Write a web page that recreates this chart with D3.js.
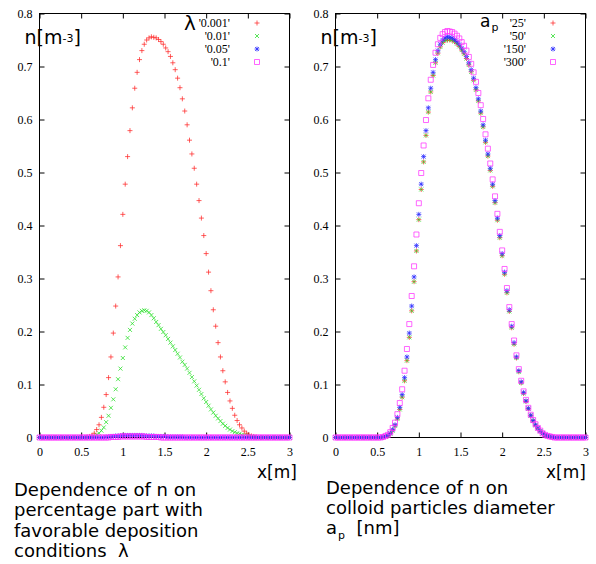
<!DOCTYPE html>
<html>
<head>
<meta charset="utf-8">
<script src="https://cdn.jsdelivr.net/npm/d3@7"></script>
<style>
	body { margin: 0; background: #fff; }
	svg { display: block; }
</style>
</head>
<body>
<script>
{ // start block scope

	// x grid shared by every series (0..3 m, 106 samples)
	const xGrid = d3.range(106).map((i) => (i * 3) / 105);

	const xTicks = [0, 0.5, 1, 1.5, 2, 2.5, 3];
	const yTicks = [0, 0.1, 0.2, 0.3, 0.4, 0.5, 0.6, 0.7, 0.8];

	// left panel : lambda
	const lambdaLabels = ["'0.001'", "'0.01'", "'0.05'", "'0.1'"];
	const lam0001 = [
		0, 0, 0, 0, 0, 0, 0, 0, 0, 0,
		0, 0, 0, 0, 0, 0, 0, 0, 0, 0,
		0.001, 0.002, 0.004, 0.008, 0.015, 0.024, 0.038, 0.057, 0.081, 0.113,
		0.152, 0.197, 0.248, 0.303, 0.362, 0.421, 0.478, 0.530, 0.579, 0.622,
		0.659, 0.689, 0.713, 0.730, 0.742, 0.750, 0.754, 0.756, 0.755, 0.754,
		0.751, 0.747, 0.742, 0.735, 0.728, 0.719, 0.707, 0.694, 0.678, 0.660,
		0.639, 0.616, 0.590, 0.561, 0.535, 0.508, 0.478, 0.447, 0.414, 0.381,
		0.347, 0.312, 0.277, 0.241, 0.210, 0.179, 0.152, 0.126, 0.105, 0.085,
		0.069, 0.055, 0.042, 0.032, 0.024, 0.018, 0.012, 0.008, 0.005, 0.003,
		0.002, 0.001, 0, 0, 0, 0, 0, 0, 0, 0,
		0, 0, 0, 0, 0, 0
	];
	const lam001 = [
		0, 0, 0, 0, 0, 0, 0, 0, 0, 0,
		0, 0, 0, 0, 0, 0, 0, 0, 0, 0,
		0, 0, 0, 0.002, 0.005, 0.008, 0.013, 0.019, 0.029, 0.041,
		0.056, 0.072, 0.091, 0.110, 0.130, 0.150, 0.170, 0.188, 0.203, 0.215,
		0.224, 0.231, 0.236, 0.239, 0.240, 0.239, 0.236, 0.231, 0.225, 0.218,
		0.212, 0.205, 0.199, 0.193, 0.186, 0.179, 0.172, 0.165, 0.158, 0.151,
		0.143, 0.137, 0.130, 0.122, 0.114, 0.106, 0.098, 0.090, 0.082, 0.074,
		0.067, 0.060, 0.053, 0.047, 0.041, 0.036, 0.031, 0.026, 0.022, 0.018,
		0.015, 0.012, 0.010, 0.008, 0.007, 0.005, 0.004, 0.003, 0.002, 0.002,
		0.001, 0, 0, 0, 0, 0, 0, 0, 0, 0,
		0, 0, 0, 0, 0, 0
	];
	const lam005 = [
		0, 0, 0, 0, 0, 0, 0, 0, 0, 0,
		0, 0, 0, 0, 0, 0, 0, 0, 0, 0,
		0, 0, 0, 0, 0, 0, 0, 0, 0.001, 0.001,
		0.002, 0.002, 0.003, 0.003, 0.003, 0.004, 0.004, 0.004, 0.004, 0.004,
		0.004, 0.004, 0.004, 0.004, 0.003, 0.003, 0.003, 0.003, 0.003, 0.002,
		0.002, 0.002, 0.002, 0.002, 0.001, 0.001, 0.001, 0.001, 0.001, 0.001,
		0.001, 0, 0, 0, 0, 0, 0, 0, 0, 0,
		0, 0, 0, 0, 0, 0, 0, 0, 0, 0,
		0, 0, 0, 0, 0, 0, 0, 0, 0, 0,
		0, 0, 0, 0, 0, 0, 0, 0, 0, 0,
		0, 0, 0, 0, 0, 0
	];
	const lam01 = [
		0, 0, 0, 0, 0, 0, 0, 0, 0, 0,
		0, 0, 0, 0, 0, 0, 0, 0, 0, 0,
		0, 0, 0, 0, 0, 0, 0, 0, 0, 0,
		0.001, 0.001, 0.001, 0.001, 0.002, 0.002, 0.002, 0.002, 0.002, 0.002,
		0.002, 0.002, 0.002, 0.002, 0.002, 0.001, 0.001, 0.001, 0.001, 0.001,
		0.001, 0, 0, 0, 0, 0, 0, 0, 0, 0,
		0, 0, 0, 0, 0, 0, 0, 0, 0, 0,
		0, 0, 0, 0, 0, 0, 0, 0, 0, 0,
		0, 0, 0, 0, 0, 0, 0, 0, 0, 0,
		0, 0, 0, 0, 0, 0, 0, 0, 0, 0,
		0, 0, 0, 0, 0, 0
	];

	// right panel : particle diameter a_p
	const apLabels = ["'25'", "'50'", "'150'", "'300'"];
	const ap25 = [
		0, 0, 0, 0, 0, 0, 0, 0, 0, 0,
		0, 0, 0, 0, 0, 0, 0, 0, 0, 0,
		0.001, 0.002, 0.003, 0.007, 0.013, 0.022, 0.035, 0.053, 0.076, 0.107,
		0.145, 0.189, 0.239, 0.294, 0.352, 0.411, 0.468, 0.520, 0.570, 0.614,
		0.652, 0.683, 0.707, 0.725, 0.737, 0.745, 0.749, 0.750, 0.750, 0.749,
		0.747, 0.743, 0.738, 0.731, 0.724, 0.715, 0.703, 0.690, 0.674, 0.656,
		0.635, 0.612, 0.586, 0.557, 0.531, 0.504, 0.474, 0.443, 0.410, 0.377,
		0.343, 0.308, 0.273, 0.238, 0.207, 0.176, 0.150, 0.124, 0.103, 0.083,
		0.068, 0.054, 0.041, 0.031, 0.023, 0.017, 0.012, 0.008, 0.005, 0.003,
		0.002, 0.001, 0, 0, 0, 0, 0, 0, 0, 0,
		0, 0, 0, 0, 0, 0
	];
	const ap50 = [
		0, 0, 0, 0, 0, 0, 0, 0, 0, 0,
		0, 0, 0, 0, 0, 0, 0, 0, 0, 0,
		0.001, 0.002, 0.003, 0.007, 0.013, 0.022, 0.035, 0.053, 0.076, 0.107,
		0.145, 0.189, 0.239, 0.294, 0.352, 0.411, 0.468, 0.520, 0.570, 0.614,
		0.652, 0.683, 0.707, 0.725, 0.737, 0.745, 0.749, 0.751, 0.751, 0.750,
		0.747, 0.743, 0.738, 0.731, 0.724, 0.715, 0.703, 0.690, 0.674, 0.656,
		0.635, 0.612, 0.586, 0.557, 0.531, 0.504, 0.474, 0.443, 0.410, 0.377,
		0.343, 0.308, 0.273, 0.238, 0.207, 0.176, 0.150, 0.124, 0.103, 0.083,
		0.068, 0.054, 0.041, 0.031, 0.023, 0.017, 0.012, 0.008, 0.005, 0.003,
		0.002, 0.001, 0, 0, 0, 0, 0, 0, 0, 0,
		0, 0, 0, 0, 0, 0
	];
	const ap150 = [
		0, 0, 0, 0, 0, 0, 0, 0, 0, 0,
		0, 0, 0, 0, 0, 0, 0, 0, 0, 0,
		0.001, 0.002, 0.004, 0.008, 0.015, 0.024, 0.038, 0.057, 0.081, 0.113,
		0.152, 0.197, 0.248, 0.303, 0.362, 0.421, 0.478, 0.530, 0.579, 0.622,
		0.659, 0.689, 0.713, 0.730, 0.742, 0.750, 0.754, 0.756, 0.755, 0.754,
		0.751, 0.747, 0.742, 0.735, 0.728, 0.719, 0.707, 0.694, 0.678, 0.660,
		0.639, 0.616, 0.590, 0.561, 0.535, 0.508, 0.478, 0.447, 0.414, 0.381,
		0.347, 0.312, 0.277, 0.241, 0.210, 0.179, 0.152, 0.126, 0.105, 0.085,
		0.069, 0.055, 0.042, 0.032, 0.024, 0.018, 0.012, 0.008, 0.005, 0.003,
		0.002, 0.001, 0, 0, 0, 0, 0, 0, 0, 0,
		0, 0, 0, 0, 0, 0
	];
	const ap300 = [
		0, 0, 0, 0, 0, 0, 0, 0, 0, 0,
		0, 0, 0, 0, 0, 0, 0, 0, 0, 0,
		0.001, 0.003, 0.005, 0.010, 0.018, 0.028, 0.044, 0.065, 0.091, 0.126,
		0.167, 0.214, 0.267, 0.323, 0.383, 0.442, 0.499, 0.551, 0.599, 0.640,
		0.675, 0.703, 0.726, 0.742, 0.754, 0.761, 0.765, 0.767, 0.766, 0.765,
		0.762, 0.758, 0.753, 0.746, 0.739, 0.730, 0.718, 0.705, 0.689, 0.671,
		0.650, 0.627, 0.601, 0.572, 0.545, 0.517, 0.487, 0.455, 0.422, 0.388,
		0.353, 0.318, 0.282, 0.246, 0.214, 0.183, 0.155, 0.129, 0.107, 0.087,
		0.071, 0.056, 0.043, 0.033, 0.025, 0.018, 0.013, 0.008, 0.005, 0.003,
		0.002, 0.001, 0, 0, 0, 0, 0, 0, 0, 0,
		0, 0, 0, 0, 0, 0
	];

	var width = 596,
		height = 564;

	// gnuplot-like point types
	const symbols = {
		plus: "M-2.5,0H2.5M0,-2.5V2.5",
		cross: "M-2,-2L2,2M-2,2L2,-2",
		star: "M-2.5,0H2.5M0,-2.5V2.5M-2,-2L2,2M-2,2L2,-2",
		square: "M-2.5,-2.5h5v5h-5z"
	};
	const styles = [
		{ sym: "plus", color: "#ff2a2a" },
		{ sym: "cross", color: "#22dd22" },
		{ sym: "star", color: "#2a2aff" },
		{ sym: "square", color: "#ff33ff" }
	];

	var svg = d3
		.select("body")
		.append("svg")
		.attr("width", width)
		.attr("height", height)
		.style("background", "#fff");

	drawPanel({
		left: 39.5,
		series: [lam0001, lam001, lam005, lam01],
		labels: lambdaLabels,
		legendX: 230,
		markX: 257,
		xLabelX: 257
	});
	drawPanel({
		left: 335.5,
		series: [ap25, ap50, ap150, ap300],
		labels: apLabels,
		legendX: 526,
		markX: 553,
		xLabelX: 546
	});

	function drawPanel(p) {
		const x = d3.scaleLinear().domain([0, 3]).range([p.left, p.left + 250]);
		const y = d3.scaleLinear().domain([0, 0.8]).range([437.5, 13.5]);
		const fmt = (d) => String(d);

		const g = svg.append("g");

		// axes with inward ticks on all four sides
		const axes = [
			{ ax: d3.axisBottom(x).tickValues(xTicks).tickFormat(fmt).tickPadding(10), t: "translate(0,437.5)" },
			{ ax: d3.axisTop(x).tickValues(xTicks).tickFormat(""), t: "translate(0,13.5)" },
			{ ax: d3.axisLeft(y).tickValues(yTicks).tickFormat(fmt).tickPadding(7), t: `translate(${p.left},0)` },
			{ ax: d3.axisRight(y).tickValues(yTicks).tickFormat(""), t: `translate(${p.left + 250},0)` }
		];
		axes.forEach((a) => {
			const ag = g
				.append("g")
				.attr("transform", a.t)
				.call(a.ax.tickSizeInner(-5).tickSizeOuter(0));
			ag.select(".domain").remove();
			ag.attr("font-family", "'Liberation Serif', serif").attr("font-size", 12);
			ag.selectAll("line").attr("stroke", "#000");
			ag.selectAll("text").attr("fill", "#000");
		});

		g.append("rect")
			.attr("x", p.left)
			.attr("y", 13.5)
			.attr("width", 250)
			.attr("height", 424)
			.attr("fill", "none")
			.attr("stroke", "#000");

		// points
		p.series.forEach((vals, k) => {
			const st = styles[k];
			g.append("g")
				.attr("fill", "none")
				.attr("stroke", st.color)
				.attr("stroke-width", 1)
				.attr("stroke-opacity", 0.75)
				.selectAll("path")
				.data(xGrid.map((xv, i) => [xv, vals[i]]))
				.join("path")
				.attr("transform", (d) => `translate(${x(d[0])},${y(d[1])})`)
				.attr("d", symbols[st.sym]);
		});

		// legend
		const lg = g.append("g");
		p.labels.forEach((lab, k) => {
			const ly = 23 + k * 13;
			lg.append("text")
				.attr("x", p.legendX)
				.attr("y", ly + 4)
				.attr("text-anchor", "end")
				.attr("font-family", "'Liberation Serif', serif")
				.attr("font-size", 12)
				.text(lab);
			lg.append("path")
				.attr("transform", `translate(${p.markX},${ly})`)
				.attr("d", symbols[styles[k].sym])
				.attr("fill", "none")
				.attr("stroke", styles[k].color)
				.attr("stroke-opacity", 0.75);
		});

		// n[m-3] label
		const nl = g
			.append("text")
			.attr("x", p.left - 15)
			.attr("y", 44)
			.attr("font-family", "'DejaVu Sans', sans-serif")
			.attr("font-size", 19);
		nl.append("tspan").text("n[m");
		nl.append("tspan").attr("font-size", 11).attr("dy", -2).text("-3");
		nl.append("tspan").attr("dy", 2).text("]");

		g.append("text")
			.attr("x", p.xLabelX)
			.attr("y", 478)
			.attr("font-family", "'DejaVu Sans', sans-serif")
			.attr("font-size", 17)
			.text("x[m]");
	}

	// legend titles
	svg.append("text")
		.attr("x", 184)
		.attr("y", 30)
		.attr("font-family", "'DejaVu Sans', sans-serif")
		.attr("font-size", 20)
		.text("λ");
	const ap = svg
		.append("text")
		.attr("x", 480)
		.attr("y", 27)
		.attr("font-family", "'DejaVu Sans', sans-serif")
		.attr("font-size", 17);
	ap.append("tspan").text("a");
	ap.append("tspan").attr("font-size", 11).attr("dy", 4).attr("dx", 1).text("p");

	// captions
	const font = "'DejaVu Sans', sans-serif";
	const capLeft = ["Dependence of n on", "percentage part with", "favorable deposition", "conditions  λ"];
	capLeft.forEach((s, i) => {
		svg.append("text")
			.attr("x", 14)
			.attr("y", 496 + i * 20.3)
			.attr("font-family", font)
			.attr("font-size", 18)
			.style("white-space", "pre")
			.text(s);
	});
	const capRight = ["Dependence of n on", "colloid particles diameter"];
	capRight.forEach((s, i) => {
		svg.append("text")
			.attr("x", 326)
			.attr("y", 494 + i * 19.7)
			.attr("font-family", font)
			.attr("font-size", 18)
			.text(s);
	});
	const c3 = svg
		.append("text")
		.attr("x", 326)
		.attr("y", 533.5)
		.attr("font-family", font)
		.attr("font-size", 18)
		.style("white-space", "pre");
	c3.append("tspan").text("a");
	c3.append("tspan").attr("font-size", 11).attr("dy", 5).attr("dx", 1).text("p");
	c3.append("tspan").attr("dy", -5).text("  [nm]");

} // end block scope
</script>
</body>
</html>
